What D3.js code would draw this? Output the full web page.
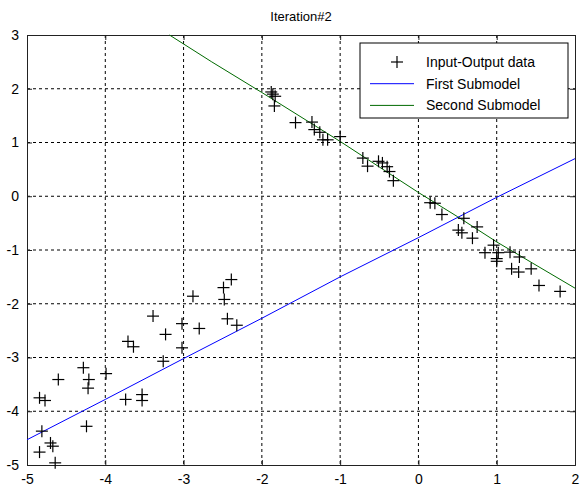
<!DOCTYPE html>
<html>
<head>
<meta charset="utf-8">
<script src="https://cdn.jsdelivr.net/npm/d3@7"></script>
<style>
  body { margin: 0; background: #fff; }
  text { font-family: "Liberation Sans", Arial, sans-serif; }
</style>
</head>
<body>
<div class="chart-wrapper"></div>
<script>
// tick values
const xTicks = [-5, -4, -3, -2, -1, 0, 1, 2];
const yTicks = [-5, -4, -3, -2, -1, 0, 1, 2, 3];

// measured input-output pairs
const dataX = [
  -4.84, -4.84, -4.77, -4.81, -4.70, -4.67, -4.64, -4.60, -4.28, -4.21,
  -4.22, -4.24, -3.99, -3.74, -3.71, -3.64, -3.53, -3.53, -3.39, -3.26,
  -3.23, -3.02, -3.02, -2.88, -2.80, -2.49, -2.39, -2.48, -2.44, -2.32,
  -1.88, -1.86, -1.83, -1.84, -1.57, -1.36, -1.33, -1.26, -1.22, -1.16,
  -1.00, -0.71, -0.65, -0.51, -0.46, -0.40, -0.37, -0.32, 0.15, 0.21,
  0.30, 0.58, 0.51, 0.555, 0.69, 0.75, 0.96, 0.85, 1.02, 1.00,
  1.00, 1.17, 1.29, 1.19, 1.28, 1.44, 1.54, 1.81
];
const dataY = [
  -4.76, -3.75, -3.80, -4.37, -4.59, -4.65, -4.96, -3.41, -3.19, -3.41,
  -3.57, -4.28, -3.30, -3.78, -2.70, -2.80, -3.69, -3.80, -2.23, -3.07,
  -2.57, -2.37, -2.82, -1.86, -2.46, -1.70, -1.55, -1.92, -2.28, -2.40,
  1.94, 1.90, 1.86, 1.68, 1.37, 1.38, 1.24, 1.19, 1.05, 1.05,
  1.11, 0.71, 0.56, 0.65, 0.62, 0.55, 0.46, 0.29, -0.12, -0.13,
  -0.34, -0.41, -0.63, -0.68, -0.78, -0.57, -0.91, -1.05, -1.05, -1.16,
  -1.21, -1.04, -1.13, -1.35, -1.41, -1.35, -1.66, -1.77
];

// first submodel output
const firstX = [-5, -4, -3, -2, -1, 0, 1, 2];
const firstY = [-4.53, -3.78, -3.02, -2.27, -1.50, -0.77, -0.02, 0.70];

// second submodel output
const secondX = [-3.18, -2.64, -2, -1, 0, 0.5, 1, 2];
const secondY = [3.0, 2.50, 1.93, 1.02, 0.07, -0.38, -0.85, -1.71];

const legendLabels = ["Input-Output data", "First Submodel", "Second Submodel"];

const width = 587, height = 488;
const margin = { top: 35, right: 12, bottom: 23, left: 27 };
const innerW = width - margin.left - margin.right;
const innerH = height - margin.top - margin.bottom;

const svg = d3.select(".chart-wrapper")
  .append("svg")
  .attr("width", width)
  .attr("height", height);

const x = d3.scaleLinear().domain([-5, 2]).range([0, innerW]);
const y = d3.scaleLinear().domain([-5, 3]).range([innerH, 0]);

const g = svg.append("g")
  .attr("transform", `translate(${margin.left},${margin.top})`);

// grid lines
g.selectAll("line.gx")
  .data(xTicks.slice(1, -1))
  .enter()
  .append("line")
  .attr("class", "gx")
  .attr("x1", d => x(d)).attr("x2", d => x(d))
  .attr("y1", 0).attr("y2", innerH)
  .style("stroke", "#000")
  .style("stroke-dasharray", "3,3")
  .style("stroke-width", 1);

g.selectAll("line.gy")
  .data(yTicks.slice(1, -1))
  .enter()
  .append("line")
  .attr("class", "gy")
  .attr("x1", 0).attr("x2", innerW)
  .attr("y1", d => y(d)).attr("y2", d => y(d))
  .style("stroke", "#000")
  .style("stroke-dasharray", "3,3")
  .style("stroke-width", 1);

// axes (ticks pointing inward like matlab)
const xAxis = g.append("g")
  .attr("transform", `translate(0,${innerH})`)
  .call(d3.axisBottom(x).tickValues(xTicks).tickSize(-5).tickPadding(9).tickFormat(d3.format("d")));
const xAxisTop = g.append("g")
  .call(d3.axisTop(x).tickValues(xTicks).tickSize(-5).tickFormat(""));
const yAxis = g.append("g")
  .call(d3.axisLeft(y).tickValues(yTicks).tickSize(-5).tickPadding(8).tickFormat(d3.format("d")));
const yAxisRight = g.append("g")
  .attr("transform", `translate(${innerW},0)`)
  .call(d3.axisRight(y).tickValues(yTicks).tickSize(-5).tickFormat(""));

[xAxis, xAxisTop, yAxis, yAxisRight].forEach(a => {
  a.selectAll("path, line").style("stroke", "#222");
  a.selectAll("text")
    .style("font-size", "14px")
    .style("fill", "#000")
    .text(function () { return this.textContent.replace("−", "-"); });
});

// model lines
const line = d3.line().x(d => x(d[0])).y(d => y(d[1]));

g.append("path")
  .datum(firstX.map((v, i) => [v, firstY[i]]))
  .attr("d", line)
  .style("fill", "none")
  .style("stroke", "#0000ff")
  .style("stroke-width", 1);

g.append("path")
  .datum(secondX.map((v, i) => [v, secondY[i]]))
  .attr("d", line)
  .style("fill", "none")
  .style("stroke", "#006a00")
  .style("stroke-width", 1);

// plus markers
const plus = d3.symbol().type(d3.symbolCross);
const pts = g.selectAll("g.pt")
  .data(dataX.map((v, i) => [v, dataY[i]]))
  .enter()
  .append("g")
  .attr("class", "pt")
  .attr("transform", d => `translate(${x(d[0])},${y(d[1])})`);

pts.append("line").attr("x1", -6).attr("x2", 6).attr("y1", 0).attr("y2", 0)
  .style("stroke", "#000").style("stroke-width", 1.2);
pts.append("line").attr("x1", 0).attr("x2", 0).attr("y1", -6).attr("y2", 6)
  .style("stroke", "#000").style("stroke-width", 1.2);

// title
svg.append("text")
  .attr("x", margin.left + innerW / 2)
  .attr("y", 21)
  .attr("text-anchor", "middle")
  .style("font-size", "13px")
  .text("Iteration#2");

// legend
const legend = svg.append("g").attr("transform", "translate(360,43)");
legend.append("rect")
  .attr("width", 208).attr("height", 75)
  .style("fill", "#fff").style("stroke", "#000").style("stroke-width", 1);

legendLabels.forEach((label, i) => {
  const ly = 19 + i * 21.7;
  if (i === 0) {
    legend.append("line").attr("x1", 31).attr("x2", 43).attr("y1", ly).attr("y2", ly)
      .style("stroke", "#000").style("stroke-width", 1.2);
    legend.append("line").attr("x1", 37).attr("x2", 37).attr("y1", ly - 6).attr("y2", ly + 6)
      .style("stroke", "#000").style("stroke-width", 1.2);
  } else {
    legend.append("line").attr("x1", 10).attr("x2", 54).attr("y1", ly).attr("y2", ly)
      .style("stroke", i === 1 ? "#0000ff" : "#006a00").style("stroke-width", 1);
  }
  legend.append("text")
    .attr("x", 66).attr("y", ly + 5)
    .style("font-size", "14px")
    .text(label);
});
</script>
</body>
</html>
